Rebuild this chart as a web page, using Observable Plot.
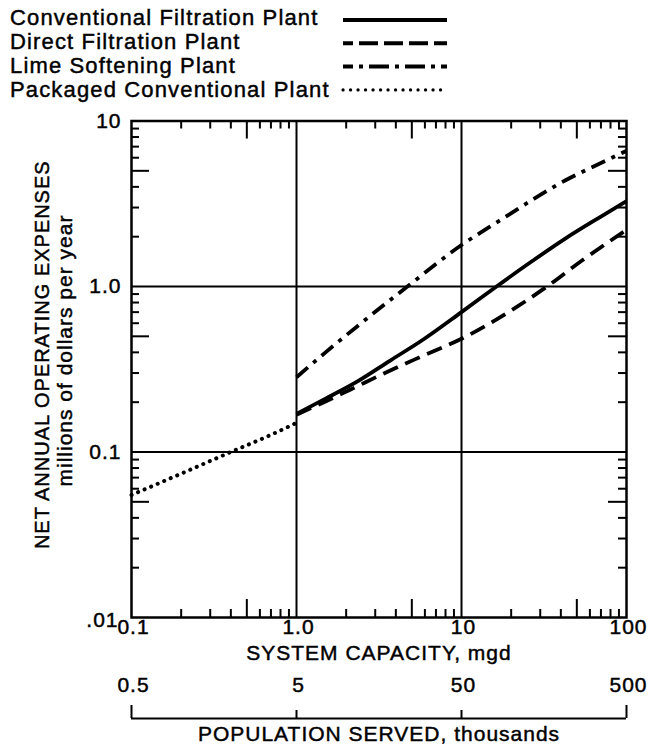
<!DOCTYPE html>
<html><head><meta charset="utf-8">
<script src="https://cdn.jsdelivr.net/npm/d3@7"></script>
<script src="https://cdn.jsdelivr.net/npm/@observablehq/plot@0.6"></script>
<style>
body{margin:0;background:#fff;}
#legend,#chart{font-family:"Liberation Sans",Arial,Helvetica,sans-serif;}
#legend text,#chart text{stroke:black;stroke-width:0.45px;}
</style></head>
<body>
<div id="legend"></div>
<div id="chart"></div>
<script>
// ---- data ----
const seriesNames = ["Conventional Filtration Plant", "Direct Filtration Plant", "Lime Softening Plant", "Packaged Conventional Plant"];
const convX = [1, 1.5, 2.3, 3.7, 5.9, 10, 16.3, 27, 43, 68, 100];
const convY = [0.17, 0.21, 0.264, 0.357, 0.48, 0.70, 1.0, 1.43, 1.96, 2.6, 3.28];
const directX = [1, 1.5, 2.1, 3.7, 5.9, 10, 21.5, 33, 54, 100];
const directY = [0.168, 0.202, 0.237, 0.311, 0.383, 0.483, 0.75, 1.0, 1.44, 2.2];
const limeX = [1, 1.5, 2.3, 4.7, 10, 17, 27, 43, 68, 100];
const limeY = [0.283, 0.40, 0.568, 1.0, 1.78, 2.5, 3.35, 4.4, 5.5, 6.6];
const packX = [0.1, 0.2, 0.4, 0.7, 1];
const packY = [0.055, 0.074, 0.1, 0.127, 0.15];

const xTickValues = [0.1, 1, 10, 100];
const xTickLabels = ["0.1", "1.0", "10", "100"];
const popLabels = ["0.5", "5", "50", "500"];
const yTickValues = [0.01, 0.1, 1, 10];
const yTickLabels = [".01", "0.1", "1.0", "10"];
const xGrid = [1, 10];
const yGrid = [0.1, 1];
const minorMult = [2, 3, 4, 6, 7, 8, 9];
const longMult = [5];
const xDecades = [0.1, 1, 10];
const yDecades = [0.01, 0.1, 1];
const xLabel = "SYSTEM CAPACITY, mgd";
const popLabel = "POPULATION SERVED, thousands";
const yLabel1 = "NET ANNUAL OPERATING EXPENSES";
const yLabel2 = "millions of dollars per year";

// ---- styling ----
const dashes = [null, "16,8", "15,7,4,7", "0.1,7"];
const caps = ["butt", "butt", "butt", "round"];

const seriesXs = [convX, directX, limeX, packX];
const seriesYs = [convY, directY, limeY, packY];
const rows = seriesNames.map((name, s) => seriesXs[s].map((x, i) => ({series: name, x, y: seriesYs[s][i]})));

// ---- legend ----
const LH = 104;
const leg = d3.select("#legend").append("svg").attr("width", 649).attr("height", LH).style("display", "block");
seriesNames.forEach((name, i) => {
  leg.append("text").attr("x", 10).attr("y", 25 + i * 24)
    .attr("font-size", 22).attr("letter-spacing", "1.15px").attr("fill", "black").text(name);
  leg.append("line").attr("x1", 343).attr("x2", 447)
    .attr("y1", 20 + i * 23.3).attr("y2", 20 + i * 23.3)
    .attr("stroke", "black").attr("stroke-width", i === 3 ? 3.2 : 4)
    .attr("stroke-dasharray", i === 1 ? "19,6" : i === 2 ? "20,6,4,6" : i === 3 ? "0.1,7.4" : null)
    .attr("stroke-dashoffset", i === 1 ? 9 : i === 2 ? 10 : 0)
    .attr("stroke-linecap", caps[i]);
});

// ---- chart ----
const W = 649, H = 751 - LH, mL = 131, mR = 23, mT = 120.5 - LH, mB = 134;
const fw = W - mL - mR, fh = H - mT - mB;
const xMinor = xDecades.flatMap(d => minorMult.map(m => d * m));
const xLong = xDecades.flatMap(d => longMult.map(m => d * m));
const yMinor = yDecades.flatMap(d => minorMult.map(m => d * m));
const yLong = yDecades.flatMap(d => longMult.map(m => d * m));
const S = {stroke: "black", strokeWidth: 2};

const marks = [
  Plot.ruleX(xGrid, {x: d => d, ...S}),
  Plot.ruleY(yGrid, {y: d => d, ...S}),
  Plot.tickX(xMinor, {x: d => d, insetTop: fh - 8, ...S}),
  Plot.tickX(xMinor, {x: d => d, insetBottom: fh - 8, ...S}),
  Plot.tickX(xLong, {x: d => d, insetTop: fh - 18, ...S}),
  Plot.tickX(xLong, {x: d => d, insetBottom: fh - 18, ...S}),
  Plot.tickY(yMinor, {y: d => d, insetRight: fw - 8, ...S}),
  Plot.tickY(yMinor, {y: d => d, insetLeft: fw - 8, ...S}),
  Plot.tickY(yLong, {y: d => d, insetRight: fw - 18, ...S}),
  Plot.tickY(yLong, {y: d => d, insetLeft: fw - 18, ...S}),
  Plot.frame({stroke: "black", strokeWidth: 2.5}),
  ...rows.map((r, s) => Plot.line(r, {x: "x", y: "y", stroke: "black", strokeWidth: s === 3 ? 4 : 3.8,
    strokeDasharray: dashes[s], strokeLinecap: caps[s], curve: "monotone-x"})),
  Plot.text(xTickValues, {x: d => d, frameAnchor: "bottom", dy: 16.5, dx: 2, text: (d, i) => xTickLabels[i], fill: "black"}),
  Plot.text(yTickValues.slice(1), {y: d => d, frameAnchor: "left", dx: -10, textAnchor: "end", text: (d, i) => yTickLabels[i + 1], fill: "black"}),
  Plot.text(yTickValues.slice(0, 1), {y: d => d, frameAnchor: "left", dx: -13, dy: 3, textAnchor: "end", text: (d, i) => yTickLabels[i], fill: "black"}),
  Plot.text([xLabel], {frameAnchor: "bottom", dy: 42.3, text: d => d, fill: "black"}),
  Plot.text(xTickValues, {x: d => d, frameAnchor: "bottom", dy: 74.5, dx: 2, text: (d, i) => popLabels[i], fill: "black"}),
  Plot.ruleY([{y: yTickValues[0]}], {y: "y", x1: () => xTickValues[0], x2: () => xTickValues[xTickValues.length - 1], dy: 101, ...S}),
  Plot.tickX([xTickValues[0], xTickValues[xTickValues.length - 1]], {x: d => d, insetTop: fh - 13, dy: 101, ...S}),
  Plot.tickX(xTickValues.slice(1, -1), {x: d => d, insetTop: fh - 8, dy: 101, ...S}),
  Plot.text([popLabel], {frameAnchor: "bottom", dy: 123.5, text: d => d, fill: "black"}),
  Plot.text([yLabel1], {frameAnchor: "left", textAnchor: "middle", rotate: -90, dx: -89, dy: -14.5, text: d => d, fill: "black", fontSize: 20}),
  Plot.text([yLabel2], {frameAnchor: "left", textAnchor: "middle", rotate: -90, dx: -66, dy: -18.7, text: d => d, fill: "black"})
];

const chart = Plot.plot({
  width: W, height: H,
  marginLeft: mL, marginRight: mR, marginTop: mT, marginBottom: mB,
  x: {type: "log", domain: [0.1, 100], axis: null},
  y: {type: "log", domain: [0.01, 10], axis: null},
  style: {fontFamily: '"Liberation Sans", Arial, Helvetica, sans-serif', fontSize: "21px", letterSpacing: "1px", color: "black", background: "white", overflow: "visible"},
  marks
});
document.getElementById("chart").appendChild(chart);
</script>
</body></html>
